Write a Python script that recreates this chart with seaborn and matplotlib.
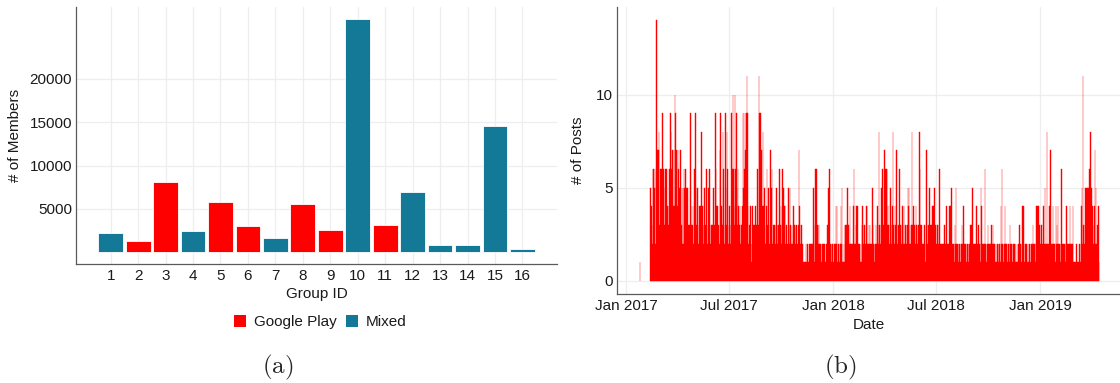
import numpy as np
import pandas as pd
import matplotlib
matplotlib.use("Agg")
import matplotlib.pyplot as plt
import matplotlib.dates as mdates
from matplotlib.patches import Patch
import seaborn as sns

# ---------------- data: panel (a) ----------------
group_ids = [str(i) for i in range(1, 17)]
group_members = [2200, 1270, 8150, 2500, 5810, 3080, 1650, 5615,
                 2580, 26920, 3115, 6920, 810, 810, 14540, 385]
group_types = ["Mixed", "Google Play", "Google Play", "Mixed", "Google Play",
               "Google Play", "Mixed", "Google Play", "Google Play", "Mixed",
               "Google Play", "Mixed", "Mixed", "Mixed", "Mixed", "Mixed"]
type_labels = ["Google Play", "Mixed"]
type_colors = ["#FF0000", "#137996"]
members_ticks = [5000, 10000, 15000, 20000]

# ---------------- data: panel (b) ----------------
first_post_date = "2017-01-25"
first_post_count = 1
posts_start = "2017-02-13"
# daily post counts (one hex digit per day), 20 days per chunk
posts_daily = [
    "5432664562e773783646",
    "39463564644346498647",
    "474a9674762547352526",
    "56253533239432342639",
    "53252342438432352326",
    "23526323232523964342",
    "32793423862395386234",
    "32396a643a6953642342",
    "3249596799b942324212",
    "43232423263b94947484",
    "45324632532735622323",
    "23532336234236524422",
    "32253253322342332322",
    "23742332211111211211",
    "21212125213636332322",
    "21221222112132526221",
    "22112124241211224251",
    "12133235232242212246",
    "22343422121213432322",
    "24422323222532212232",
    "43283325363327636634",
    "32353234832432732336",
    "23324324223233545232",
    "38324232433223863232",
    "22132127323252323444",
    "45232233226222121223",
    "22422224442522221325",
    "22212221232242212122",
    "21223232522212242232",
    "22154222126221232221",
    "23223222121122122142",
    "62212421221221322212",
    "21221211221322124242",
    "12121121211221232221",
    "24244232223224225228",
    "22224272224222142324",
    "22212622212212422212",
    "42122411101201010212",
    "452b3325354555658554",
    "423472523241",
]
posts_yticks = [0, 5, 10]

# ---------------- style ----------------
sns.set_theme(style="white")
plt.rcParams["font.family"] = ["Liberation Sans", "DejaVu Sans"]
plt.rcParams["mathtext.fontset"] = "cm"

text_color = "#1a1a1a"
grid_color = "#EEEEEE"
spine_color = "#5a5a5a"

fig = plt.figure(figsize=(11.2, 3.83), dpi=100)
ax1 = fig.add_axes([76.4 / 1120, 1 - 264 / 383, (557 - 76.4) / 1120, (264 - 7) / 383])
ax2 = fig.add_axes([617.3 / 1120, 1 - 294 / 383, (1120 - 617.3) / 1120, (294 - 7) / 383])

# ---------------- panel (a) ----------------
df_groups = pd.DataFrame({"group": group_ids, "members": group_members, "type": group_types})
sns.barplot(data=df_groups, x="group", y="members", hue="type", order=group_ids,
            hue_order=type_labels, palette=dict(zip(type_labels, type_colors)),
            dodge=False, width=0.9, edgecolor="white", linewidth=0.6,
            saturation=1, legend=False, ax=ax1, zorder=3)
ax1.set_xlim(-1.25, 16.26)
ax1.set_ylim(-1346, 28266)
ax1.set_yticks(members_ticks)
ax1.set_yticklabels([str(v) for v in members_ticks])
ax1.set_xlabel("Group ID", fontsize=11, color=text_color)
ax1.set_ylabel("# of Members", fontsize=11, color=text_color)
ax1.xaxis.set_label_coords(0.5, -0.09)
ax1.yaxis.set_label_coords(-0.113, 0.5)

# ---------------- panel (b) ----------------
counts = [int(c, 16) for c in "".join(posts_daily)]
dates = list(pd.date_range(posts_start, periods=len(counts), freq="D"))
df_posts = pd.DataFrame({
    "date": [pd.Timestamp(first_post_date)] + dates,
    "posts": [first_post_count] + counts,
})
df_posts["dnum"] = mdates.date2num(df_posts["date"].dt.to_pydatetime())
sns.histplot(data=df_posts, x="dnum", weights="posts", discrete=True, shrink=1.0,
             color="#FF0000", alpha=1, linewidth=0.3, edgecolor="#FF0000",
             element="bars", fill=True, ax=ax2, zorder=3)
# hide empty days (zero-height bins would otherwise leave an outline at 0)
for p in ax2.patches:
    if p.get_height() == 0:
        p.set_visible(False)
d0 = mdates.date2num(pd.Timestamp("2017-01-01").to_pydatetime())
ax2.set_xlim(d0 - 15.9, d0 + 871.2)
ax2.set_ylim(-0.7, 14.7)
ax2.set_yticks(posts_yticks)
ax2.xaxis.set_major_locator(mdates.MonthLocator(bymonth=[1, 7]))
ax2.xaxis.set_major_formatter(mdates.DateFormatter("%b %Y"))
ax2.set_xlabel("Date", fontsize=11, color=text_color)
ax2.set_ylabel("# of Posts", fontsize=11, color=text_color)
ax2.xaxis.set_label_coords(0.5, -0.082)
ax2.yaxis.set_label_coords(-0.064, 0.5)

for ax in (ax1, ax2):
    ax.set_axisbelow(True)
    ax.grid(True, color=grid_color, linewidth=0.9)
    for s in ("top", "right"):
        ax.spines[s].set_visible(False)
    for s in ("left", "bottom"):
        ax.spines[s].set_color(spine_color)
        ax.spines[s].set_linewidth(0.9)
    ax.tick_params(axis="x", length=2.2, width=0.7, color=spine_color, pad=1.5,
                   labelsize=11, labelcolor=text_color)
    ax.tick_params(axis="y", length=0, pad=3, labelsize=11, labelcolor=text_color)
    ax.set_facecolor("white")

# ---------------- legend & captions ----------------
handles = [Patch(facecolor=c, edgecolor="none") for c in type_colors]
fig.legend(handles, type_labels, loc="center", bbox_to_anchor=(320 / 1120, 1 - 322 / 383),
           ncol=2, frameon=False, fontsize=11, handlelength=0.8, handleheight=0.8,
           handletextpad=0.5, columnspacing=0.6, labelcolor=text_color)

fig.text(278 / 1120, 1 - 367 / 383, r"$\mathrm{(a)}$", fontsize=18, ha="center", va="center")
fig.text(840 / 1120, 1 - 367 / 383, r"$\mathrm{(b)}$", fontsize=18, ha="center", va="center")

fig.savefig("out.png", dpi=100, facecolor="white")
